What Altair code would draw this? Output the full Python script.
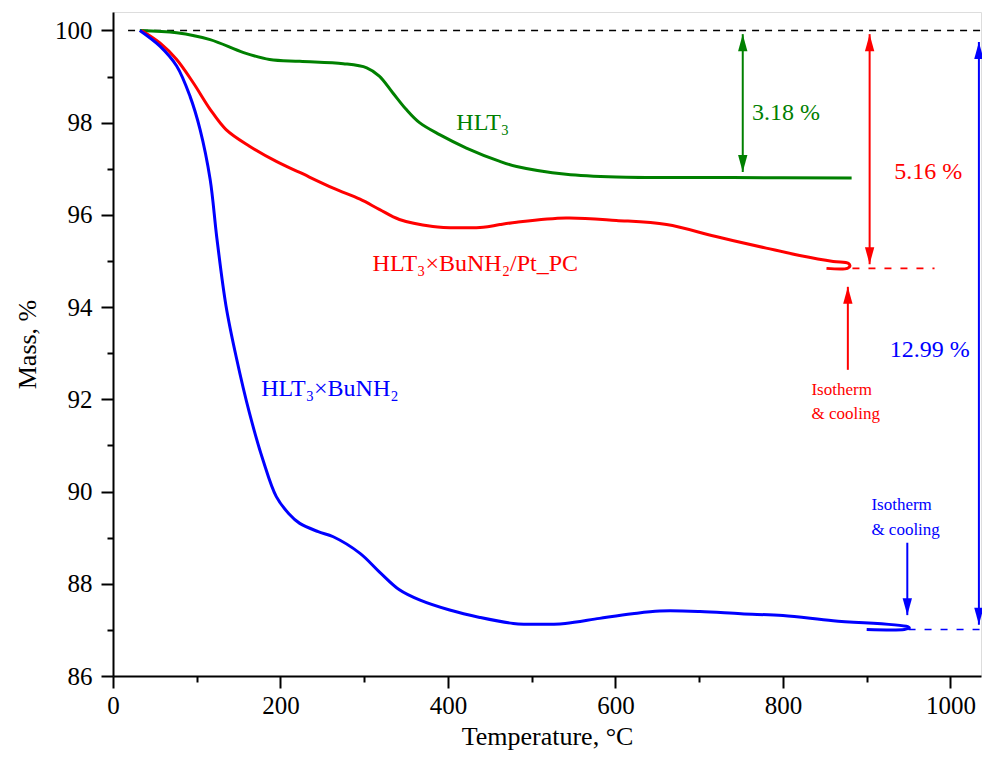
import altair as alt
import pandas as pd

# ---------------- data ----------------
S_G = "HLT₃"
S_R = "HLT₃×BuNH₂/Pt_PC"
S_B = "HLT₃×BuNH₂"
series = [S_G, S_R, S_B]
series_colors = ["#008000", "#ff0000", "#0000ff"]

green_T = [32, 76, 116, 156, 187, 223, 275, 303, 318, 334, 350, 366, 390, 422, 462, 482, 541,
           601, 740, 882]
green_M = [100, 99.95, 99.8, 99.52, 99.37, 99.33, 99.28, 99.19, 99.01, 98.65, 98.29, 98.0, 97.74,
           97.45, 97.16, 97.05, 96.88, 96.82, 96.81, 96.80]

red_T = [34, 56, 76, 96, 116, 135, 163, 195, 223, 263, 295, 318, 342, 382, 414, 442, 462, 482,
         541, 601, 661, 720, 780, 820, 860, 878, 880, 877, 852]
red_M = [100, 99.73, 99.37, 98.86, 98.29, 97.85, 97.49, 97.16, 96.92, 96.58, 96.34, 96.12, 95.9,
         95.75, 95.72, 95.73, 95.79, 95.84, 95.93, 95.88, 95.79, 95.53, 95.28, 95.12, 94.99, 94.95,
         94.89, 94.84, 94.84]

blue_T = [32, 56, 76, 92, 104, 116, 124, 135, 147, 163, 179, 195, 210, 223, 245, 263, 295, 318,
          342, 366, 402, 438, 478, 510, 540, 581, 620, 653, 701, 750, 800, 860, 949, 951, 945, 900]
blue_M = [100, 99.66, 99.23, 98.57, 97.85, 96.77, 95.5, 94.02, 92.93, 91.7, 90.69, 89.89, 89.52,
          89.31, 89.13, 89.02, 88.66, 88.26, 87.87, 87.65, 87.43, 87.27, 87.14, 87.12, 87.14, 87.25,
          87.35, 87.41, 87.40, 87.35, 87.31, 87.2, 87.07, 87.04, 87.01, 87.01]

# reference (100 %) line and final-mass dashed extensions
ref_T = [18, 1036]
ref_M = [100, 100]
ext_series = [S_R, S_B]
ext_T1 = [883, 950]
ext_T2 = [981, 1036]
ext_M = [94.84, 87.01]

# arrows: series, temperature, tail/top value, head value, kind
arrow_series = [S_G, S_R, S_B, S_R, S_B]
arrow_T = [752, 903.5, 1034, 877.5, 948.5]
arrow_from = [99.92, 99.92, 99.75, 92.64, 88.89]
arrow_to = [96.93, 94.93, 87.11, 94.44, 87.32]
arrow_both = [True, True, True, False, False]

# text annotations
label_series = [S_G, S_G, S_R, S_B, S_R, S_B]
label_text = ["HLT₃", "3.18 %", "5.16 %", "12.99 %", "HLT₃×BuNH₂/Pt_PC", "HLT₃×BuNH₂"]
label_T = [410, 763, 933, 927.5, 310, 177]
label_M = [98.0, 98.2, 96.94, 93.08, 94.94, 92.23]

note_series = [S_R, S_R, S_B, S_B]
note_text = ["Isotherm", "& cooling", "Isotherm", "& cooling"]
note_T = [834, 834, 905.6, 905.6]
note_M = [92.21, 91.69, 89.71, 89.17]

x_major = [0, 200, 400, 600, 800, 1000]
x_minor = [100, 300, 500, 700, 900]
y_major = [86, 88, 90, 92, 94, 96, 98, 100]
y_minor = [87, 89, 91, 93, 95, 97, 99]

# ---------------- build tables ----------------
def curve(s, T, M):
    return pd.DataFrame({"s": s, "T": T, "M": M, "i": range(len(T))})

curves = pd.concat([curve(S_G, green_T, green_M), curve(S_R, red_T, red_M),
                    curve(S_B, blue_T, blue_M)], ignore_index=True)
ref = pd.DataFrame({"T": ref_T, "M": ref_M})
ext = pd.DataFrame({"s": ext_series, "T1": ext_T1, "T2": ext_T2, "M": ext_M})
arrows = pd.DataFrame({"s": arrow_series, "T": arrow_T, "M1": arrow_from, "M2": arrow_to})

heads = []
for s, T, a, b, both in zip(arrow_series, arrow_T, arrow_from, arrow_to, arrow_both):
    heads.append({"s": s, "T": T, "M": b, "dir": "down" if b < a else "up"})
    if both:
        heads.append({"s": s, "T": T, "M": a, "dir": "up" if b < a else "down"})
heads = pd.DataFrame(heads)

labels = pd.DataFrame({"s": label_series, "txt": label_text, "T": label_T, "M": label_M})
notes = pd.DataFrame({"s": note_series, "txt": note_text, "T": note_T, "M": note_M})

# ---------------- styling ----------------
FONT = "Liberation Serif"
xs = alt.Scale(domain=[0, 1036.5], nice=False, zero=False)
ys = alt.Scale(domain=[86, 100.4], nice=False, zero=False)
cs = alt.Scale(domain=series, range=series_colors)
col = alt.Color("s:N", scale=cs, legend=None)

axis_common = dict(grid=False, domainColor="black", domainWidth=2, tickColor="black",
                   tickWidth=2, labelFont=FONT, labelColor="black", labelFontSize=25,
                   titleFont=FONT, titleColor="black", titleFontSize=26,
                   titleFontWeight="normal", labelFlush=False, labelOverlap=False, format="d")

x_axis_major = alt.Axis(values=x_major, tickSize=12, labelPadding=5, titlePadding=5,
                        title="Temperature, °C", orient="bottom", **axis_common)
y_axis_major = alt.Axis(values=y_major, tickSize=12, labelPadding=9, titlePadding=14,
                        title="Mass, %", orient="left", **axis_common)
x_axis_minor = alt.Axis(values=x_minor, tickSize=6, tickWidth=2, tickColor="black", orient="bottom",
                        labels=False, domain=False, grid=False, title=None)
y_axis_minor = alt.Axis(values=y_minor, tickSize=6, tickWidth=2, tickColor="black", orient="left",
                        labels=False, domain=False, grid=False, title=None)

UP = "M0,0L0.55,2L-0.55,2Z"
DOWN = "M0,0L0.55,-2L-0.55,-2Z"

# ---------------- layers ----------------
ref_layer = alt.Chart(ref).mark_line(color="black", strokeWidth=1.6, strokeDash=[7, 6]).encode(
    x=alt.X("T:Q", scale=xs, axis=x_axis_major),
    y=alt.Y("M:Q", scale=ys, axis=y_axis_major),
)

ext_layer = alt.Chart(ext).mark_rule(strokeWidth=1.6, strokeDash=[7, 9]).encode(
    x=alt.X("T1:Q", scale=xs, axis=x_axis_minor),
    x2="T2:Q",
    y=alt.Y("M:Q", scale=ys, axis=y_axis_minor),
    color=col,
)

curve_layer = alt.Chart(curves).mark_line(strokeWidth=3, interpolate="catmull-rom").encode(
    x=alt.X("T:Q", scale=xs, axis=None),
    y=alt.Y("M:Q", scale=ys, axis=None),
    color=col,
    order="i:Q",
)

shaft_layer = alt.Chart(arrows).mark_rule(strokeWidth=2).encode(
    x=alt.X("T:Q", scale=xs, axis=None),
    y=alt.Y("M1:Q", scale=ys, axis=None),
    y2="M2:Q",
    color=col,
)

head_layer = alt.Chart(heads).mark_point(filled=True, opacity=1, size=289, strokeWidth=0).encode(
    x=alt.X("T:Q", scale=xs, axis=None),
    y=alt.Y("M:Q", scale=ys, axis=None),
    shape=alt.Shape("dir:N", scale=alt.Scale(domain=["up", "down"], range=[UP, DOWN]), legend=None),
    color=col,
)

label_layer = alt.Chart(labels).mark_text(font=FONT, fontSize=24, align="left", baseline="middle").encode(
    x=alt.X("T:Q", scale=xs, axis=None),
    y=alt.Y("M:Q", scale=ys, axis=None),
    text="txt:N",
    color=col,
)

note_layer = alt.Chart(notes).mark_text(font=FONT, fontSize=17, align="left", baseline="middle").encode(
    x=alt.X("T:Q", scale=xs, axis=None),
    y=alt.Y("M:Q", scale=ys, axis=None),
    text="txt:N",
    color=col,
)

chart = alt.layer(
    ref_layer, ext_layer, curve_layer, shaft_layer, head_layer, label_layer, note_layer
).resolve_axis(x="independent", y="independent").properties(
    width=868, height=664,
    autosize=alt.AutoSizeParams(type="none"),
    padding={"left": 105, "top": 4, "right": 1, "bottom": 79},
).configure_view(stroke=None).configure(background="white")

chart.save("out.html", embed_options={"renderer": "svg", "actions": False})
